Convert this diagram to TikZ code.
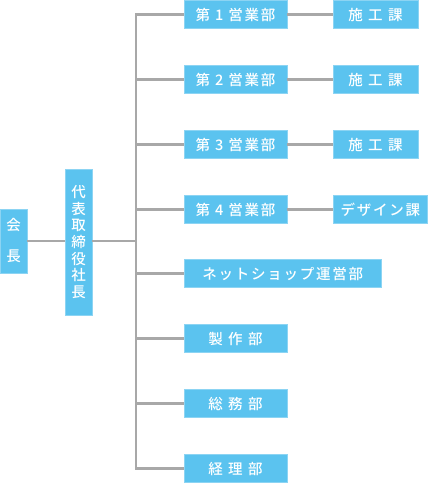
\documentclass[tikz,border=0pt]{standalone}
\usepackage{fontspec}
\newfontfamily\jp[LetterSpace=12, BoldFont={Noto Sans CJK JP Medium}]{Noto Sans CJK JP}
\definecolor{boxblue}{HTML}{5BC3EF}
\definecolor{boxedge}{HTML}{8CD4F3}
\definecolor{linegray}{HTML}{A8A8A8}
\newcommand{\wgap}{\hspace{5.5pt}}
\begin{document}
\begin{tikzpicture}[x=1pt,y=-1pt,
  box/.style={fill=boxblue, draw=boxedge, line width=0.6pt, text=white,
    font=\jp\bfseries\fontsize{14.5}{16.7}\selectfont, inner sep=0pt, minimum height=28},
  dept/.style={box, minimum width=103},
  sub/.style={box, minimum width=85},
  vbox/.style={box, minimum width=27, align=center},
  conn/.style={draw=linegray, line width=2.6pt}]
\useasboundingbox (0,0) rectangle (440,483);
% nodes
\node[vbox, minimum height=64, font=\jp\bfseries\fontsize{14.5}{31}\selectfont] (chair) at (13.5,241) {会\\長};
\node[vbox, minimum height=146] (ceo) at (78.5,242) {代\\表\\取\\締\\役\\社\\長};
\node[dept] (d1) at (235.5,14.5) {第 1 営業部};
\node[dept] (d2) at (235.5,79.5) {第 2 営業部};
\node[dept] (d3) at (235.5,144.5) {第 3 営業部};
\node[dept] (d4) at (235.5,209.5) {第 4 営業部};
\node[box, minimum width=197, anchor=west] (net) at (184,273.5) {ネットショップ運営部};
\node[dept] (d6) at (235.5,338.5) {製\wgap 作\wgap 部};
\node[dept] (d7) at (235.5,403.5) {総\wgap 務\wgap 部};
\node[dept] (d8) at (235.5,468.5) {経\wgap 理\wgap 部};
\node[sub] (s1) at (375.5,14.5) {施\wgap 工\wgap 課};
\node[sub] (s2) at (375.5,79.5) {施\wgap 工\wgap 課};
\node[sub] (s3) at (375.5,144.5) {施\wgap 工\wgap 課};
\node[box, minimum width=94, anchor=west] (s4) at (333,209.5) {デザイン課};
% spine
\coordinate (top) at (136,14.5);
\coordinate (bot) at (136,468.5);
\draw[conn] (chair.east |- 0,241) -- (ceo.west |- 0,241);
\draw[conn] (ceo.east |- 0,241) -- (136,241);
\draw[conn, line cap=rect] (top) -- (bot);
\foreach \n in {d1,d2,d3,d4,net,d6,d7,d8}{
  \draw[conn] (\n.west) -- (\n.west -| top);
}
\draw[conn] (d1.east) -- (s1.west);
\draw[conn] (d2.east) -- (s2.west);
\draw[conn] (d3.east) -- (s3.west);
\draw[conn] (d4.east) -- (s4.west);
\end{tikzpicture}
\end{document}
